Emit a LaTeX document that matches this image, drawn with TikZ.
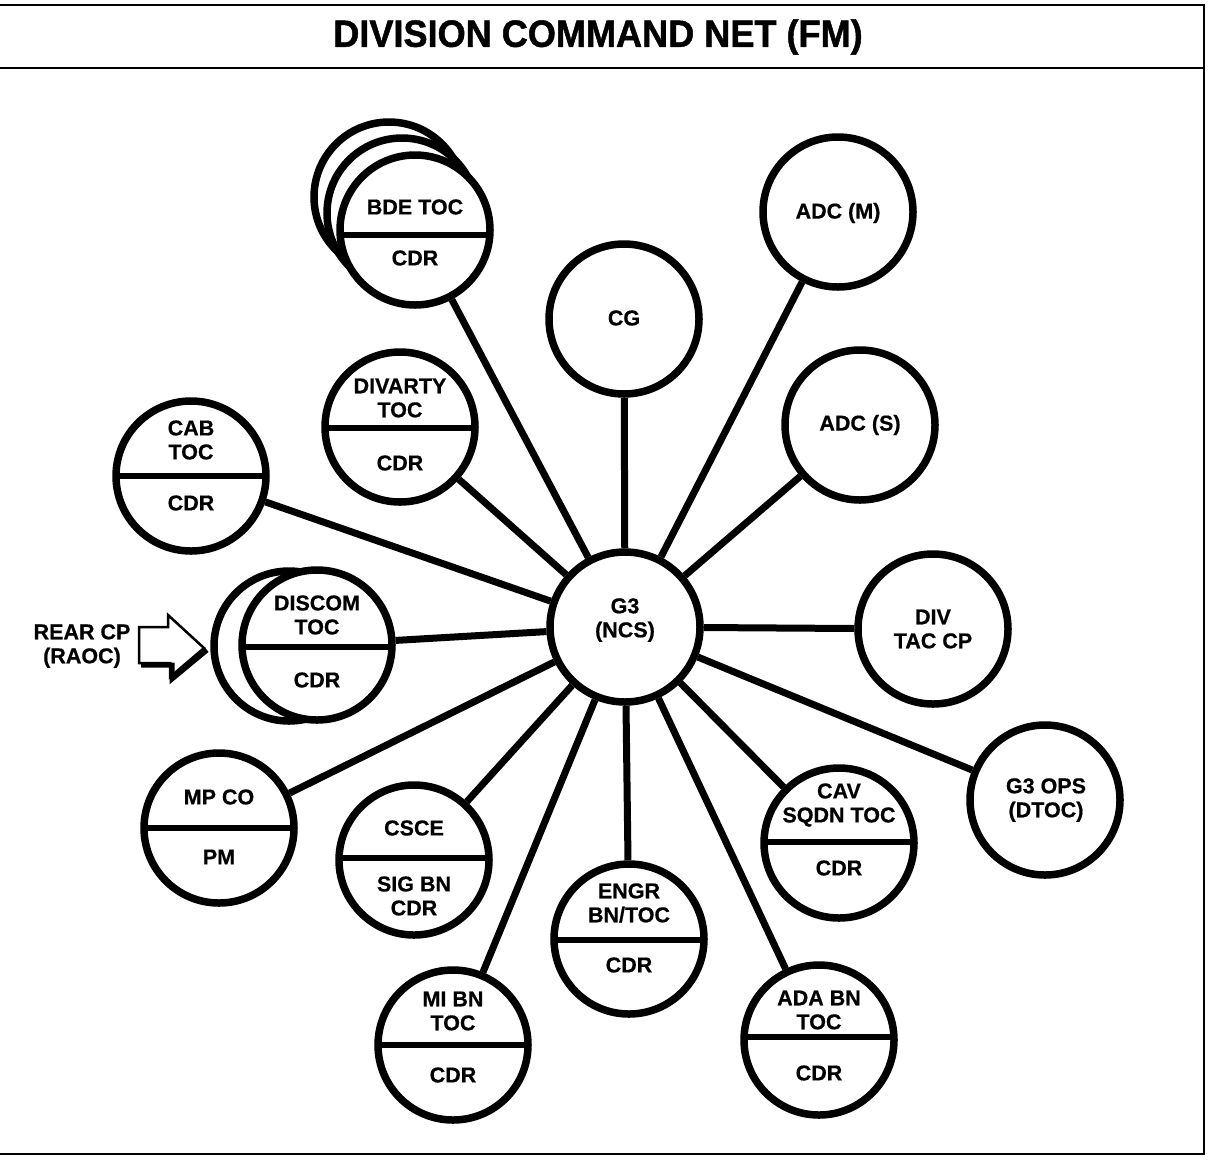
\documentclass[tikz,border=0pt]{standalone}
\usepackage{fontspec}
\setmainfont{Liberation Sans}
\newfontfamily\titlefont[FakeStretch=0.95,FakeBold=1.2]{Liberation Sans Bold}
\newfontfamily\labfont[FakeBold=0.6]{Liberation Sans Bold}
\begin{document}
\begin{tikzpicture}[x=1pt,y=-1pt,
  bub/.style={circle,draw,line width=7.5pt,minimum size=150pt,inner sep=0pt,fill=white},
  lab/.style={font=\fontsize{21.5}{24}\labfont,align=center,inner sep=0pt},
  link/.style={line width=7pt},
  divl/.style={line width=6.5pt},
  frameline/.style={line width=2.5pt}]
\useasboundingbox (0,0) rectangle (1214,1163);
\newcommand\splitc[8]{%
  \node[bub] (#1) at (#2,#3) {};
  \begin{scope}\clip (#2,#3) circle (75pt);
    \draw[divl] (#2-80,#4) -- (#2+80,#4);
  \end{scope}
  \node[lab] (#1-t) at (#2,#6) {#5};
  \node[lab] (#1-b) at (#2,#8) {#7};
}
% frame
\coordinate (tl) at (0,5); \coordinate (tr) at (1204,5);
\coordinate (ml) at (0,68); \coordinate (mr) at (1204,68);
\coordinate (bl) at (0,1154); \coordinate (br) at (1204,1154);
\draw[frameline] (tl) -- (tr) -- (br) -- (bl);
\draw[frameline] (ml) -- (mr);
\node[font=\fontsize{38}{38}\titlefont,inner sep=0pt] (title) at (598,37) {DIVISION COMMAND NET (FM)};

% center
\node[bub] (g3) at (625,627) {};
\node[lab] (g3-t) at (625,620) {G3\\(NCS)};

% simple circles
\node[bub] (cg) at (624,319) {};
\node[lab] (cg-t) at (624,318) {CG};
\node[bub] (adcm) at (838,212) {};
\node[lab] (adcm-t) at (838,213) {ADC (M)};
\node[bub] (adcs) at (860,425) {};
\node[lab] (adcs-t) at (860,425) {ADC (S)};
\node[bub] (tac) at (933,629) {};
\node[lab] (tac-t) at (933,629) {DIV\\TAC CP};
\node[bub] (ops) at (1045,800) {};
\node[lab] (ops-t) at (1046,800) {G3 OPS\\(DTOC)};

% BDE TOC stacked
\node[bub] (bde-b2) at (389,197) {};
\node[bub] (bde-b1) at (402,213) {};
\splitc{bde}{415}{230}{235}{BDE TOC}{207}{CDR}{258}

% DISCOM stacked
\node[bub] (dis-b) at (289,646) {};
\splitc{dis}{317}{645}{647}{DISCOM\\TOC}{615}{CDR}{680}

\splitc{divarty}{400}{427}{428}{DIVARTY\\TOC}{398}{CDR}{463}
\splitc{cab}{191}{476}{476}{CAB\\TOC}{440}{CDR}{503}
\splitc{mp}{219}{828}{828}{MP CO}{797}{PM}{857}
\splitc{csce}{414}{860}{858}{CSCE}{828}{SIG BN\\CDR}{896}
\splitc{mi}{453}{1045}{1045}{MI BN\\TOC}{1011}{CDR}{1075}
\splitc{engr}{629}{939}{940}{ENGR\\BN/TOC}{903}{CDR}{965}
\splitc{ada}{819}{1040}{1037}{ADA BN\\TOC}{1010}{CDR}{1073}
\splitc{cav}{839}{843}{842}{CAV\\SQDN TOC}{805}{CDR}{868}

% connectors
\foreach \n in {cg,adcm,adcs,tac,ops,bde,dis,divarty,cab,mp,csce,mi,engr,ada,cav}
  \draw[link] (g3) -- (\n);

% rear CP arrow
\node[lab] (rear) at (82,646) {REAR CP\\(RAOC)};
\draw[line width=2.5pt,line join=miter] (139,627) -- (168,627) -- (168,615) -- (204,648) -- (170,677) -- (170,663) -- (139,663) -- cycle;
\draw[line width=5pt,line join=miter] (141,665) -- (172,665) -- (172,679) -- (207,650);
\end{tikzpicture}
\end{document}
